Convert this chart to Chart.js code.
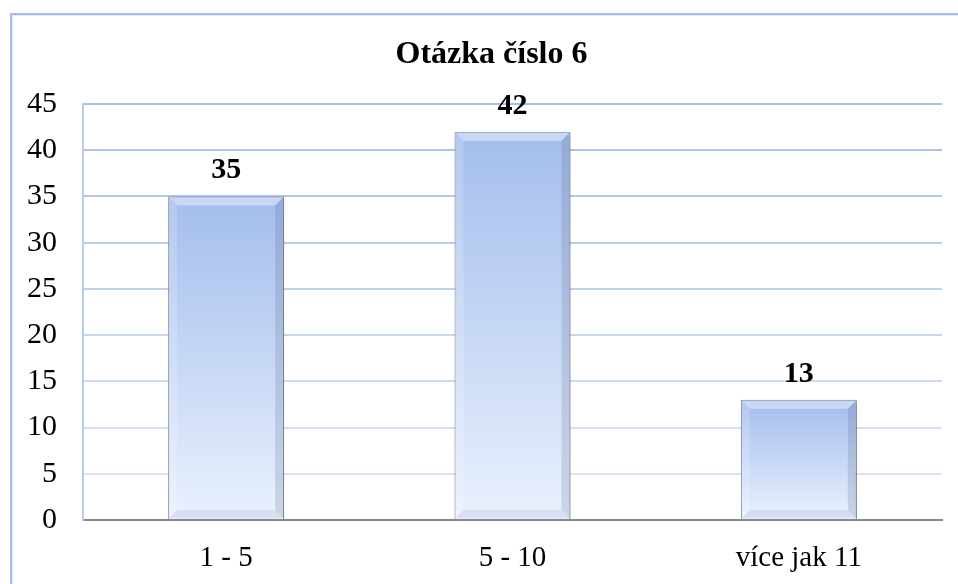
<!DOCTYPE html>
<html lang="cs">
<head>
<meta charset="utf-8">
<title>Otázka číslo 6</title>
<script src="https://cdn.jsdelivr.net/npm/chart.js@4/dist/chart.umd.min.js"></script>
<style>
    html, body { margin: 0; padding: 0; background: #ffffff; }
    #wrap { position: relative; width: 958px; height: 584px; }
</style>
</head>
<body>
<div id="wrap"><canvas id="otazkaChart"></canvas></div>
<script>
// data z grafu
const categories = ['1 - 5', '5 - 10', 'více jak 11'];
const answers = [35, 42, 13];
const yTicks = [0, 5, 10, 15, 20, 25, 30, 35, 40, 45];
const chartTitle = 'Otázka číslo 6';

const serif = "'Liberation Serif', 'Times New Roman', serif";
const barTop = '#a3bdec';
const barBottom = '#eaf1fd';

// původní rámeček grafu přesahuje vpravo mimo obrázek
const frameLeft = 11;
const frameTop = 14;
const frameRight = 972;

// barva mřížky - nahoře sytější, dole světlejší
function gridColor(value) {
    const t = value / 45;
    const a = [223, 232, 247];
    const b = [166, 190, 234];
    const c = a.map((v, i) => Math.round(v + (b[i] - v) * t));
    return `rgb(${c[0]}, ${c[1]}, ${c[2]})`;
}

// gradient pro každý sloupec zvlášť
function barGradient(context) {
    const chart = context.chart;
    const { ctx, chartArea, scales } = chart;
    if (!chartArea || !context.parsed) return barTop;
    const top = scales.y.getPixelForValue(context.parsed.y);
    const base = scales.y.getPixelForValue(0);
    const g = ctx.createLinearGradient(0, top, 0, base);
    g.addColorStop(0, barTop);
    g.addColorStop(0.5, '#c6d7f5');
    g.addColorStop(1, barBottom);
    return g;
}

// rámeček a nadpis grafu
const framePlugin = {
    id: 'frame',
    beforeDraw(chart) {
        const ctx = chart.ctx;
        ctx.save();
        ctx.strokeStyle = '#a6bde8';
        ctx.lineWidth = 2;
        ctx.beginPath();
        ctx.moveTo(frameLeft, chart.height);
        ctx.lineTo(frameLeft, frameTop);
        ctx.lineTo(chart.width, frameTop);
        ctx.stroke();
        ctx.strokeStyle = '#dbe6f8';
        ctx.lineWidth = 1;
        ctx.beginPath();
        ctx.moveTo(frameLeft + 1.5, chart.height);
        ctx.lineTo(frameLeft + 1.5, frameTop + 1.5);
        ctx.lineTo(chart.width, frameTop + 1.5);
        ctx.stroke();

        ctx.fillStyle = '#000000';
        ctx.font = 'bold 32px ' + serif;
        ctx.textAlign = 'center';
        ctx.textBaseline = 'alphabetic';
        ctx.fillText(chartTitle, (frameLeft + frameRight) / 2, 63);
        ctx.restore();
    }
};

// stín, zkosení a popisky sloupců
const barStylePlugin = {
    id: 'barStyle',
    beforeDatasetsDraw(chart) {
        const ctx = chart.ctx;
        ctx.save();
        ctx.shadowColor = 'rgba(0, 0, 0, 0.35)';
        ctx.shadowBlur = 5;
        ctx.shadowOffsetX = 2;
        ctx.shadowOffsetY = 2;
    },
    afterDatasetsDraw(chart) {
        const ctx = chart.ctx;
        ctx.restore();
        const meta = chart.getDatasetMeta(0);
        const b = 8;
        ctx.save();
        meta.data.forEach((bar, i) => {
            const l = bar.x - bar.width / 2 + 1;
            const r = bar.x + bar.width / 2 - 1;
            const t = bar.y + 1;
            const bot = bar.base - 1;

            ctx.fillStyle = 'rgba(255, 255, 255, 0.4)';
            ctx.beginPath();
            ctx.moveTo(l, t); ctx.lineTo(r, t); ctx.lineTo(r - b, t + b); ctx.lineTo(l + b, t + b);
            ctx.closePath(); ctx.fill();

            ctx.fillStyle = 'rgba(255, 255, 255, 0.18)';
            ctx.beginPath();
            ctx.moveTo(l, t); ctx.lineTo(l + b, t + b); ctx.lineTo(l + b, bot - b); ctx.lineTo(l, bot);
            ctx.closePath(); ctx.fill();

            ctx.fillStyle = 'rgba(70, 90, 130, 0.18)';
            ctx.beginPath();
            ctx.moveTo(r, t); ctx.lineTo(r, bot); ctx.lineTo(r - b, bot - b); ctx.lineTo(r - b, t + b);
            ctx.closePath(); ctx.fill();

            ctx.fillStyle = 'rgba(70, 90, 130, 0.10)';
            ctx.beginPath();
            ctx.moveTo(l, bot); ctx.lineTo(r, bot); ctx.lineTo(r - b, bot - b); ctx.lineTo(l + b, bot - b);
            ctx.closePath(); ctx.fill();

            ctx.fillStyle = '#000000';
            ctx.font = 'bold 30px ' + serif;
            ctx.textAlign = 'center';
            ctx.textBaseline = 'alphabetic';
            ctx.fillText(String(answers[i]), bar.x, bar.y - 18);
        });
        ctx.restore();
    }
};

document.addEventListener('DOMContentLoaded', function() {
    const ctx = document.getElementById('otazkaChart').getContext('2d');
    new Chart(ctx, {
        type: 'bar',
        data: {
            labels: categories,
            datasets: [{
                data: answers,
                backgroundColor: barGradient,
                borderColor: '#7c8aa3',
                borderWidth: 1,
                barPercentage: 0.405,
                categoryPercentage: 1
            }]
        },
        options: {
            responsive: true,
            maintainAspectRatio: false,
            animation: false,
            layout: { padding: { left: 0, right: 16, top: 104, bottom: 0 } },
            plugins: {
                legend: { display: false },
                tooltip: { enabled: false },
                title: { display: false }
            },
            scales: {
                x: {
                    grid: { display: false, drawTicks: false },
                    border: { color: '#898989', width: 2 },
                    ticks: {
                        color: '#000000',
                        font: { family: serif, size: 29 },
                        padding: 21,
                        maxRotation: 0
                    },
                    afterFit(scale) { scale.height = 64; }
                },
                y: {
                    min: 0,
                    max: 45,
                    afterBuildTicks(scale) {
                        scale.ticks = yTicks.map(v => ({ value: v }));
                    },
                    grid: {
                        drawTicks: false,
                        lineWidth: 2,
                        color: c => gridColor(c.tick ? c.tick.value : 0)
                    },
                    border: { color: '#b9cbee', width: 2 },
                    ticks: {
                        color: '#000000',
                        font: { family: serif, size: 30 },
                        padding: 26
                    },
                    afterFit(scale) { scale.width = 83; }
                }
            }
        },
        plugins: [framePlugin, barStylePlugin]
    });
});
</script>
</body>
</html>
